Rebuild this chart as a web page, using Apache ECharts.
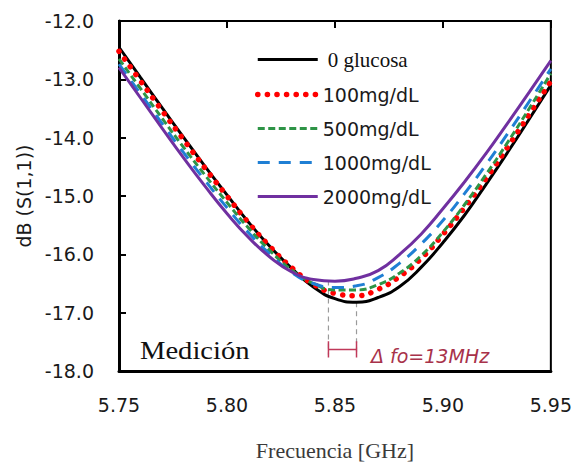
<!DOCTYPE html>
<html>
<head>
<meta charset="utf-8">
<script src="https://cdn.jsdelivr.net/npm/echarts@6/dist/echarts.min.js"></script>
<style>html,body{margin:0;padding:0;background:#fff}#c{width:575px;height:466px}</style>
</head>
<body>
<div id="c"></div>
<script>
const freq = [5.75,5.76,5.77,5.78,5.79,5.80,5.81,5.82,5.83,5.84,5.85,5.86,5.87,5.88,5.89,5.90,5.91,5.92,5.93,5.94,5.95];
const s0    = [-12.45,-12.97,-13.49,-14.00,-14.50,-14.98,-15.45,-15.87,-16.24,-16.56,-16.76,-16.82,-16.74,-16.55,-16.22,-15.80,-15.33,-14.80,-14.25,-13.68,-13.10];
const s100  = [-12.52,-13.03,-13.54,-14.04,-14.53,-15.00,-15.46,-15.87,-16.23,-16.51,-16.67,-16.71,-16.60,-16.38,-16.07,-15.66,-15.20,-14.70,-14.16,-13.60,-13.03];
const s500  = [-12.65,-13.16,-13.67,-14.17,-14.65,-15.11,-15.55,-15.94,-16.27,-16.50,-16.61,-16.61,-16.52,-16.32,-16.02,-15.62,-15.15,-14.63,-14.08,-13.50,-12.90];
const s1000 = [-12.74,-13.25,-13.76,-14.26,-14.74,-15.20,-15.63,-16.00,-16.31,-16.50,-16.57,-16.54,-16.40,-16.15,-15.82,-15.42,-14.96,-14.46,-13.93,-13.38,-12.82];
const s2000 = [-12.80,-13.32,-13.84,-14.35,-14.84,-15.30,-15.71,-16.05,-16.30,-16.43,-16.46,-16.41,-16.28,-16.00,-15.65,-15.22,-14.76,-14.27,-13.75,-13.22,-12.68];
const seriesNames = ['0 glucosa','100mg/dL','500mg/dL','1000mg/dL','2000mg/dL'];
const xTicks = [5.75,5.80,5.85,5.90,5.95];
const yTicks = [-18,-17,-16,-15,-14,-13,-12];
// resonance minima marked in the annotation
const fMin2000 = 5.847, yMin2000 = -16.45;
const fMin0 = 5.860, yMin0 = -16.82;
const yMarkBottom = -17.72, yBracket = -17.63, yCapTop = -17.49, yCapBot = -17.77;
const deltaText = 'Δ fo=13MHz';
const measText = 'Medición';

const pair = (xs, ys) => xs.map((x, i) => [x, ys[i]]);
const SANS = 'DejaVu Sans';
const SERIF = 'Liberation Serif';

const chart = echarts.init(document.getElementById('c'), null, {renderer: 'svg'});
const lineBase = {type: 'line', smooth: true, symbol: 'none', xAxisIndex: 0, yAxisIndex: 0, z: 3};
chart.setOption({
  animation: false,
  backgroundColor: '#fff',
  grid: {left: 119, right: 23, top: 21, bottom: 87, show: true, borderColor: '#000', borderWidth: 2},
  legend: {
    orient: 'vertical', left: 250, top: 44,
    itemWidth: 60, itemHeight: 14, itemGap: 15,
    data: seriesNames,
    itemStyle: {color: 'rgba(0,0,0,0)', borderWidth: 0, opacity: 0},
    lineStyle: {width: 'inherit', type: 'inherit', cap: 'inherit'},
    formatter: n => n === '0 glucosa' ? '{s|' + n + '}' : '{n|' + n + '}',
    textStyle: {
      fontFamily: SANS, fontSize: 19, color: '#1a1a1a',
      rich: {
        s: {fontFamily: SERIF, fontSize: 21, color: '#111', padding: [0, 0, 0, 5]},
        n: {fontFamily: SANS, fontSize: 19, color: '#1a1a1a'}
      }
    }
  },
  xAxis: [{
    type: 'value', min: 5.75, max: 5.95, interval: 0.05, position: 'bottom',
    axisLine: {show: true, onZero: false, lineStyle: {color: '#000', width: 3}},
    axisTick: {show: false}, splitLine: {show: false},
    axisLabel: {fontFamily: SANS, fontSize: 19, color: '#1a1a1a', margin: 24, formatter: v => v.toFixed(2)},
    name: 'Frecuencia [GHz]', nameLocation: 'middle', nameGap: 68,
    nameTextStyle: {fontFamily: SERIF, fontSize: 22, color: '#3a3a3a'}
  }, {
    type: 'value', min: 5.75, max: 5.95, interval: 0.05, position: 'top',
    axisLine: {show: true, onZero: false, lineStyle: {color: '#000', width: 2}},
    axisTick: {show: true, inside: true, length: 7, lineStyle: {color: '#000', width: 2}},
    axisLabel: {show: false}, splitLine: {show: false}
  }],
  yAxis: [{
    type: 'value', min: -18, max: -12, interval: 1,
    axisLine: {show: true, onZero: false, lineStyle: {color: '#000', width: 3}},
    axisTick: {show: true, inside: true, length: 7, lineStyle: {color: '#000', width: 2}},
    splitLine: {show: false},
    axisLabel: {fontFamily: SANS, fontSize: 19, color: '#1a1a1a', margin: 25, formatter: v => v.toFixed(1)},
    name: 'dB (S(1,1))', nameLocation: 'middle', nameGap: 84, nameRotate: 90,
    nameTextStyle: {fontFamily: SANS, fontSize: 19, color: '#1a1a1a'}
  }],
  series: [
    Object.assign({}, lineBase, {name: seriesNames[0], data: pair(freq, s0), color: '#000',
      lineStyle: {color: '#000', width: 3}}),
    Object.assign({}, lineBase, {name: seriesNames[1], data: pair(freq, s100), color: '#ff0000',
      lineStyle: {color: '#ff0000', width: 5.5, type: [0.1, 9.5], cap: 'round'}}),
    Object.assign({}, lineBase, {name: seriesNames[2], data: pair(freq, s500), color: '#2e9446',
      lineStyle: {color: '#2e9446', width: 3, type: [7, 3.5]}}),
    Object.assign({}, lineBase, {name: seriesNames[3], data: pair(freq, s1000), color: '#1f7fd4',
      lineStyle: {color: '#1f7fd4', width: 3, type: [12, 9]}}),
    Object.assign({}, lineBase, {name: seriesNames[4], data: pair(freq, s2000), color: '#7030a0',
      lineStyle: {color: '#7030a0', width: 3}}),
    {type: 'line', name: 'guides', symbol: 'none', silent: true, z: 2,
      data: [[fMin2000, yMin2000], [fMin2000, yMarkBottom], null, [fMin0, yMin0], [fMin0, yMarkBottom]],
      connectNulls: false,
      lineStyle: {color: '#9a9a9a', width: 1.2, type: [5, 4]}},
    {type: 'line', name: 'bracket', symbol: 'none', silent: true, z: 4,
      data: [[fMin2000, yCapTop], [fMin2000, yCapBot], null, [fMin2000, yBracket], [fMin0, yBracket], null, [fMin0, yCapTop], [fMin0, yCapBot]],
      connectNulls: false,
      lineStyle: {color: '#c0395a', width: 1.5}}
  ],
  graphic: [
    {type: 'text', left: 140, top: 337, scaleX: 1.1, style: {text: measText, font: '26px "Liberation Serif"', fill: '#111'}},
    {type: 'text', left: 371, top: 346, style: {text: deltaText, font: 'italic 19px "DejaVu Sans"', fill: '#a8324a'}}
  ]
});
</script>
</body>
</html>
